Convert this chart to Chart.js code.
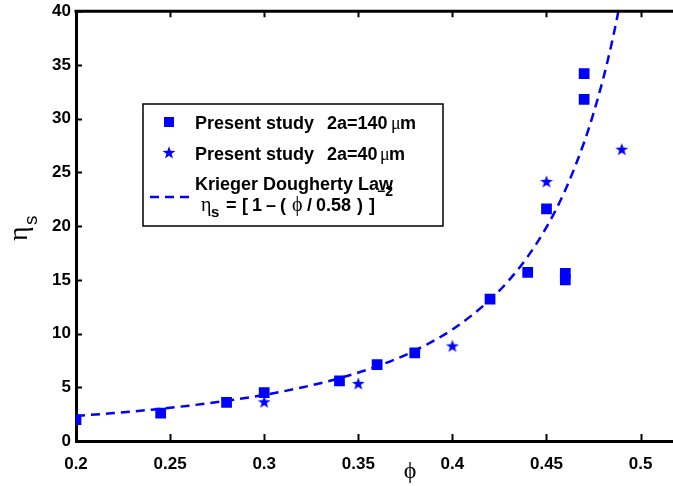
<!DOCTYPE html>
<html>
<head>
<meta charset="utf-8">
<script src="https://cdn.jsdelivr.net/npm/chart.js@4.4.0/dist/chart.umd.min.js"></script>
<style>
  html, body { margin: 0; padding: 0; background: #fff; overflow: hidden; }
  #wrap { width: 673px; height: 486px; position: relative; overflow: hidden; }
  #chart { position: absolute; left: 0; top: -4px; }
</style>
</head>
<body>
<div id="wrap"><canvas id="chart" width="690" height="490"></canvas></div>
<script>
// tick labels
const xTicks = [0.2, 0.25, 0.3, 0.35, 0.4, 0.45, 0.5];
const yTicks = [0, 5, 10, 15, 20, 25, 30, 35, 40];

// Present study 2a=140 um (squares)
const phi140 = [0.2, 0.245, 0.28, 0.3, 0.34, 0.36, 0.38, 0.42, 0.44, 0.45, 0.46, 0.46, 0.47, 0.47];
const eta140 = [2.0, 2.6, 3.6, 4.5, 5.6, 7.1, 8.2, 13.2, 15.7, 21.6, 15.6, 15.0, 31.8, 34.2];

// Present study 2a=40 um (stars)
const phi40 = [0.3, 0.35, 0.4, 0.45, 0.49];
const eta40 = [3.6, 5.3, 8.8, 24.1, 27.1];

// Krieger Dougherty curve
const phiKD = [0.2, 0.22, 0.24, 0.26, 0.28, 0.3, 0.32, 0.34, 0.36, 0.38, 0.4, 0.42, 0.43, 0.44, 0.45, 0.46, 0.47, 0.475, 0.48, 0.485, 0.489];
const etaKD = [2.33, 2.6, 2.91, 3.29, 3.74, 4.29, 4.98, 5.84, 6.95, 8.41, 10.38, 13.14, 14.95, 17.16, 19.9, 23.36, 27.8, 30.51, 33.64, 37.28, 40.7];

const BLUE = '#0000ff';
const SANS = '"Liberation Sans", Arial, Helvetica, sans-serif';
const SERIF = '"Liberation Serif", "DejaVu Serif", "Times New Roman", serif';
const SHIFT = 4; // canvas is moved up by this much

// filled five point star marker
function makeStar(r, color) {
    const c = document.createElement('canvas');
    const s = Math.ceil(r * 2) + 2;
    c.width = s; c.height = s;
    const g = c.getContext('2d');
    g.fillStyle = color;
    g.beginPath();
    for (let i = 0; i < 10; i++) {
        const rad = i % 2 === 0 ? r : r * 0.4;
        const a = -Math.PI / 2 + i * Math.PI / 5;
        const px = s / 2 + rad * Math.cos(a);
        const py = s / 2 + rad * Math.sin(a);
        if (i === 0) g.moveTo(px, py); else g.lineTo(px, py);
    }
    g.closePath();
    g.fill();
    return c;
}
const starImg = makeStar(6.8, BLUE);

// text pieces placed at fixed x positions
function drawPieces(ctx, y, pieces) {
    pieces.forEach(p => {
        ctx.font = p.font;
        ctx.fillText(p.text, p.x, y + (p.dy || 0));
    });
}

// frame, inward ticks, axis titles, legend
const framePlugin = {
    id: 'frame',
    afterDraw(chart) {
        const ctx = chart.ctx;
        const area = chart.chartArea;
        const xs = chart.scales.x;
        const ys = chart.scales.y;
        ctx.save();
        ctx.strokeStyle = '#000';
        ctx.lineWidth = 3;
        ctx.beginPath();
        ctx.moveTo(area.left - 1.5, area.top);
        ctx.lineTo(chart.width, area.top);
        ctx.stroke();

        ctx.lineWidth = 2;
        ctx.beginPath();
        xTicks.forEach(v => {
            const px = Math.round(xs.getPixelForValue(v)) + 0.5;
            ctx.moveTo(px, area.bottom);
            ctx.lineTo(px, area.bottom - 7);
            ctx.moveTo(px, area.top);
            ctx.lineTo(px, area.top + 6);
        });
        yTicks.forEach(v => {
            const py = Math.round(ys.getPixelForValue(v)) + 0.5;
            ctx.moveTo(area.left, py);
            ctx.lineTo(area.left + 6, py);
        });
        ctx.stroke();

        // everything below is placed in page coordinates
        ctx.translate(0, SHIFT);

        // axis titles
        ctx.fillStyle = '#000';
        ctx.textAlign = 'center';
        ctx.textBaseline = 'middle';
        ctx.font = '24px ' + SERIF;
        ctx.fillText('\u03D5', 410, 472);

        ctx.save();
        ctx.translate(27, 241);
        ctx.rotate(-Math.PI / 2);
        ctx.textAlign = 'left';
        ctx.textBaseline = 'alphabetic';
        ctx.font = '28px ' + SERIF;
        ctx.fillText('\u03B7', 0, 0);
        ctx.font = '19px ' + SANS;
        ctx.fillText('s', 16, 10);
        ctx.restore();

        // legend box
        ctx.fillStyle = '#fff';
        ctx.fillRect(143, 104, 300, 122);
        ctx.strokeStyle = '#000';
        ctx.lineWidth = 1.5;
        ctx.strokeRect(143, 104, 300, 122);

        ctx.fillStyle = BLUE;
        ctx.fillRect(164, 117, 10, 10);
        ctx.drawImage(starImg, 169 - starImg.width / 2, 153 - starImg.height / 2);
        ctx.strokeStyle = BLUE;
        ctx.lineWidth = 2.5;
        ctx.setLineDash([9, 6]);
        ctx.beginPath();
        ctx.moveTo(150, 197);
        ctx.lineTo(190, 197);
        ctx.stroke();
        ctx.setLineDash([]);

        const bold = 'bold 18px ' + SANS;
        const mu = '18px ' + SERIF;
        const greek = '20px ' + SERIF;
        ctx.fillStyle = '#000';
        ctx.textAlign = 'left';
        ctx.textBaseline = 'middle';
        drawPieces(ctx, 124, [
            { x: 195, text: 'Present study', font: bold },
            { x: 327, text: '2a=140', font: bold },
            { x: 391, text: '\u03BC', font: mu },
            { x: 400, text: 'm', font: bold }
        ]);
        drawPieces(ctx, 155, [
            { x: 195, text: 'Present study', font: bold },
            { x: 327, text: '2a=40', font: bold },
            { x: 380, text: '\u03BC', font: mu },
            { x: 389, text: 'm', font: bold }
        ]);
        drawPieces(ctx, 185, [{ x: 195, text: 'Krieger Dougherty Law', font: bold }]);
        drawPieces(ctx, 206, [
            { x: 201, text: '\u03B7', font: greek },
            { x: 211, text: 's', font: 'bold 15px ' + SANS, dy: 7 },
            { x: 226, text: '=', font: bold },
            { x: 242, text: '[', font: bold },
            { x: 252, text: '1', font: bold },
            { x: 266, text: '\u2013', font: bold },
            { x: 280, text: '(', font: bold },
            { x: 292, text: '\u03D5', font: greek },
            { x: 307, text: '/', font: bold },
            { x: 316, text: '0.58', font: bold },
            { x: 357, text: ')', font: bold },
            { x: 369, text: ']', font: bold },
            { x: 377, text: '\u22122', font: 'bold 14px ' + SANS, dy: -14 }
        ]);
        ctx.restore();
    }
};

new Chart(document.getElementById('chart'), {
    type: 'scatter',
    data: {
        datasets: [
            {
                label: 'Present study  2a=140 \u03BCm',
                data: phi140.map((p, i) => ({ x: p, y: eta140[i] })),
                pointStyle: 'rect',
                pointRadius: 7.6,
                backgroundColor: BLUE,
                borderColor: BLUE,
                borderWidth: 0
            },
            {
                label: 'Present study  2a=40 \u03BCm',
                data: phi40.map((p, i) => ({ x: p, y: eta40[i] })),
                pointStyle: starImg,
                pointRadius: 7,
                backgroundColor: BLUE,
                borderColor: BLUE
            },
            {
                type: 'line',
                label: 'Krieger Dougherty Law',
                data: phiKD.map((p, i) => ({ x: p, y: etaKD[i] })),
                showLine: true,
                pointRadius: 0,
                borderColor: BLUE,
                borderWidth: 2.5,
                borderDash: [9, 6],
                cubicInterpolationMode: 'monotone',
                fill: false
            }
        ]
    },
    options: {
        responsive: false,
        animation: false,
        layout: { padding: { top: 11, right: 0, left: 0, bottom: 0 } },
        plugins: {
            legend: { display: false },
            tooltip: { enabled: false }
        },
        scales: {
            x: {
                type: 'linear',
                min: 0.2,
                max: 0.522,
                afterBuildTicks: scale => { scale.ticks = xTicks.map(v => ({ value: v })); },
                afterFit: scale => { scale.height = 45; },
                grid: { display: false, drawTicks: false },
                border: { display: true, color: '#000', width: 3 },
                ticks: {
                    color: '#000',
                    padding: 13,
                    maxRotation: 0,
                    font: { family: SANS, size: 17, weight: 'bold' },
                    callback: v => String(v)
                }
            },
            y: {
                min: 0,
                max: 40,
                afterBuildTicks: scale => { scale.ticks = yTicks.map(v => ({ value: v })); },
                afterFit: scale => { scale.width = 76; },
                grid: { display: false, drawTicks: false },
                border: { display: true, color: '#000', width: 3 },
                ticks: {
                    color: '#000',
                    padding: 5,
                    font: { family: SANS, size: 17, weight: 'bold' },
                    callback: v => String(v)
                }
            }
        }
    },
    plugins: [framePlugin]
});
</script>
</body>
</html>
